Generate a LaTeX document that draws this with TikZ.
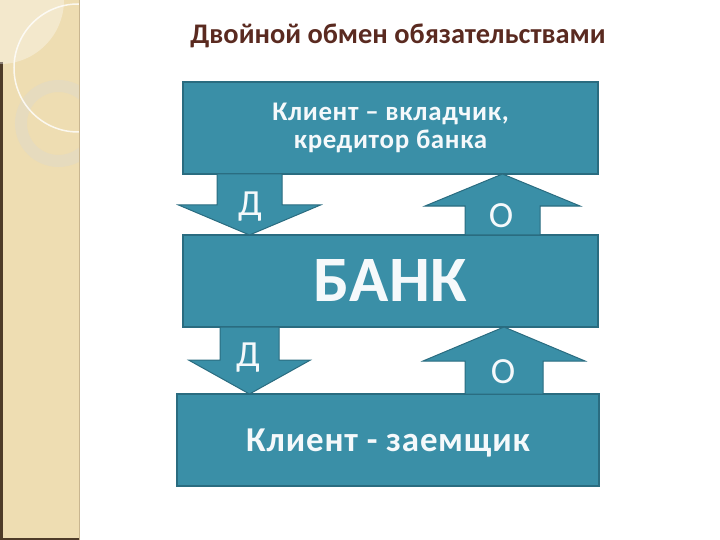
\documentclass[tikz,border=0pt]{standalone}
\usepackage{fontspec}
\setmainfont{Carlito}
\usetikzlibrary{calc}
\definecolor{xteal}{HTML}{3A8FA7}
\definecolor{xtealdark}{HTML}{2A6C80}
\definecolor{xtitle}{HTML}{5A2A20}
\definecolor{xsand}{HTML}{EEDDB2}
\definecolor{xsandring}{HTML}{E6DBBE}
\definecolor{xsandline}{HTML}{C9B690}
\definecolor{xsanddark}{HTML}{4E3B28}
\tikzset{
  bankbox/.style={draw=xtealdark, line width=1.2bp, fill=xteal, text=white!95!xteal,
    minimum width=#1, minimum height=92bp, inner sep=0pt, outer sep=0pt, align=center},
  bankbox/.default=415bp,
  flowarrow/.style={draw=xtealdark, line width=1bp, fill=xteal, line join=miter},
  arrowlabel/.style={text=white!95!xteal, font=\fontsize{37}{37}\selectfont, anchor=base},
}
% #1 start, #2 tip, #3 half shaft, #4 half head, #5 head length
\newcommand{\blockarrow}[5]{%
  \coordinate (ba) at ($(#2)!#5!(#1)$);
  \draw[flowarrow] ($(#1)+(-#3,0)$) -- ($(ba)+(-#3,0)$) -- ($(ba)+(-#4,0)$) -- (#2)
    -- ($(ba)+(#4,0)$) -- ($(ba)+(#3,0)$) -- ($(#1)+(#3,0)$) -- cycle;
}

\begin{document}
\begin{tikzpicture}[x=1bp, y=-1bp]
  \useasboundingbox (0,0) rectangle (720,540);

  % side strip
  \begin{scope}
    \clip (0,0) rectangle (79,540);
    \fill[xsand] (0,0) rectangle (79,540);
    \draw[xsanddark, line width=2.5bp] (1.25,62) -- (1.25,538.75) -- (79,538.75);
    \fill[white, opacity=0.35] (0,0) circle (64);
    \draw[xsandring, line width=12bp] (58.5,123.5) circle (37.5);
    \draw[white, opacity=0.8, line width=1.5bp] (78,68) circle (64);
  \end{scope}
  \draw[xsandline, line width=1bp] (79.5,0) -- (79.5,540);

  \node[text=xtitle, font=\bfseries\fontsize{28.5}{28.5}\selectfont, anchor=base] (title)
    at (398,44) {Двойной обмен обязательствами};

  \node[bankbox, font=\bfseries\fontsize{27}{29}\selectfont\addfontfeatures{LetterSpace=2.5}]
    (depositor) at (390.5,128) {Клиент – вкладчик,\\ кредитор банка};
  \node[bankbox, font=\bfseries\fontsize{65}{65}\selectfont\addfontfeatures{LetterSpace=1}]
    (bank) at (390.5,281) {БАНК};
  \node[bankbox=422bp, text depth=0pt, font=\bfseries\fontsize{35}{35}\selectfont\addfontfeatures{LetterSpace=2.5}]
    (borrower) at (388,440) {Клиент - заемщик};

  % deposits go down, obligations go up
  \coordinate (d1) at ($(depositor.south west)+(66.5,0)$);
  \blockarrow{d1}{d1 |- bank.north}{32.5}{71}{30bp}
  \coordinate (o1) at ($(bank.north east)+(-95.5,0)$);
  \blockarrow{o1}{o1 |- depositor.south}{37.5}{77.5}{32bp}
  \coordinate (d2) at ($(bank.south west)+(66.5,0)$);
  \blockarrow{d2}{d2 |- borrower.north}{29.5}{61}{34bp}
  \coordinate (o2) at ($(borrower.north east)+(-95,0)$);
  \blockarrow{o2}{o2 |- bank.south}{39}{81}{34bp}

  \node[arrowlabel] (lblD1) at (250,216) {Д};
  \node[arrowlabel] (lblO1) at (501,228) {О};
  \node[arrowlabel] (lblD2) at (248,366) {Д};
  \node[arrowlabel] (lblO2) at (503,383) {О};
\end{tikzpicture}
\end{document}
